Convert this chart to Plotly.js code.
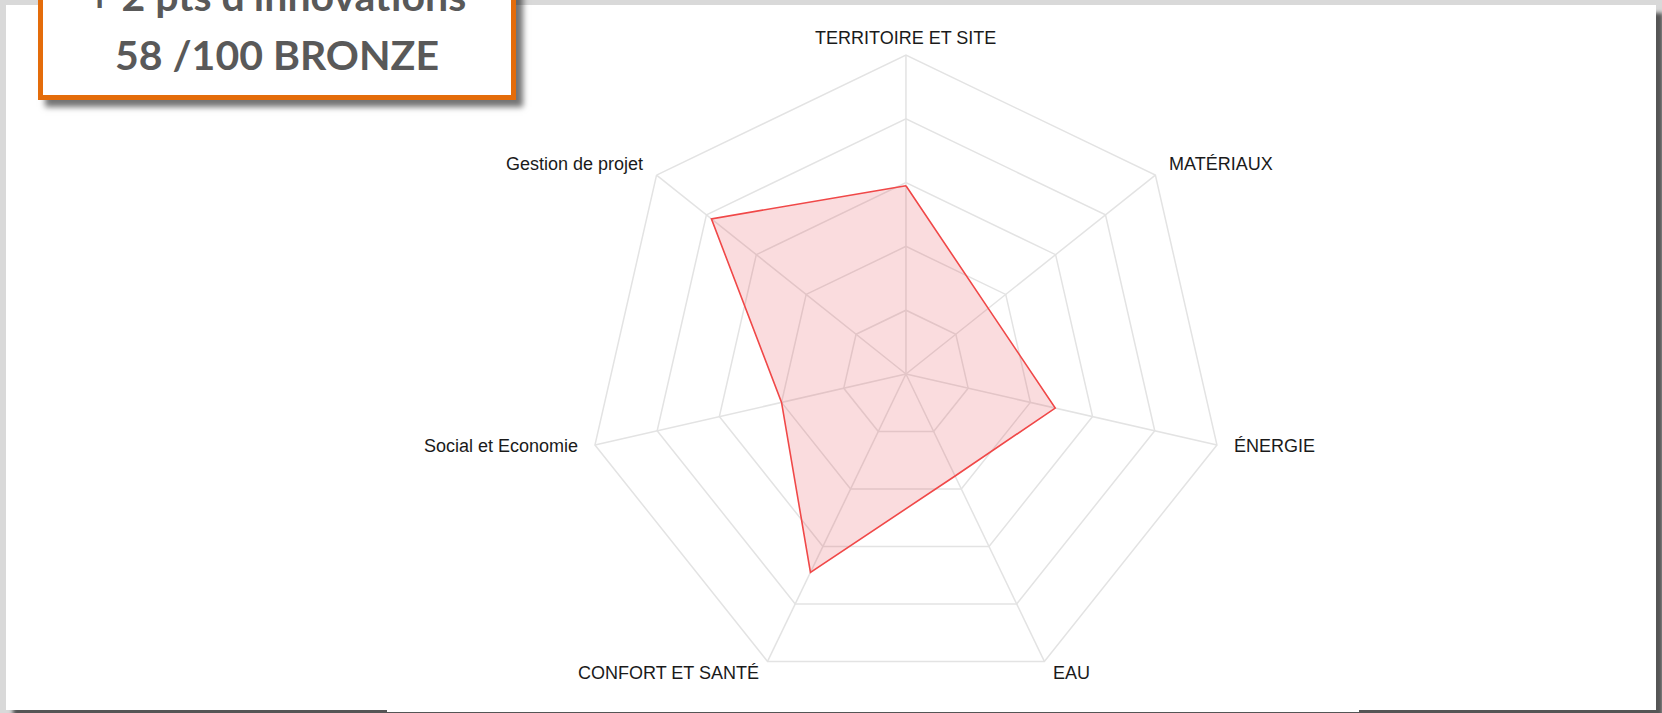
<!DOCTYPE html>
<html>
<head>
<meta charset="utf-8">
<script src="https://cdn.plot.ly/plotly-3.0.1.min.js"></script>
<style>
  html, body { margin: 0; padding: 0; background: #d9d9d9; }
  #wrap { position: relative; width: 1662px; height: 713px; background: #d9d9d9; overflow: hidden; }
  #page { position: absolute; left: 6px; top: 5px; width: 1650px; height: 705px; background: #ffffff; box-shadow: 7px 8px 4px #555555; }
  #pagefix { position: absolute; left: 387px; top: 710px; width: 972px; height: 2px; background: #ffffff; }
  #chart { position: absolute; left: 0; top: 0; width: 1662px; height: 713px; }
  #badge { position: absolute; left: 38px; top: -60px; width: 468px; height: 150px; background: #ffffff; border: 5.5px solid #e46c0a; box-shadow: 7px 7px 6px rgba(0,0,0,0.55); }
  #badgetext { position: absolute; left: 0; top: 0; width: 1662px; height: 713px; pointer-events: none; }
</style>
</head>
<body>
<div id="wrap">
  <div id="page"></div>
  <div id="pagefix"></div>
  <div id="chart"></div>
  <div id="badge"></div>
  <svg id="badgetext" width="1662" height="713">
    <text id="line1" x="277" y="11" text-anchor="middle" font-family="Lato, 'Open Sans', sans-serif" font-weight="700" font-size="41" fill="#595959"></text>
    <text id="line2" x="277" y="70" text-anchor="middle" font-family="Lato, 'Open Sans', sans-serif" font-weight="700" font-size="41" fill="#595959"></text>
  </svg>
</div>
<script>
// ---- data ----
const categories = ["TERRITOIRE ET SITE", "MATÉRIAUX", "ÉNERGIE", "EAU", "CONFORT ET SANTÉ", "Social et Economie", "Gestion de projet"];
const scores = [59, 33, 48, 35.5, 69, 40, 78];
const badgeLines = ["+ 2 pts d’innovations", "58 /100 BRONZE"];
const radialTicks = [0, 20, 40, 60, 80, 100];

document.getElementById('line1').textContent = badgeLines[0];
document.getElementById('line2').textContent = badgeLines[1];

const thetaClosed = categories.concat([categories[0]]);
const rClosed = scores.concat([scores[0]]);

const trace = {
  type: 'scatterpolar',
  r: rClosed,
  theta: thetaClosed,
  mode: 'lines',
  fill: 'toself',
  fillcolor: 'rgba(230,60,70,0.18)',
  line: { color: 'rgb(240,72,72)', width: 1.6 },
  hoverinfo: 'skip',
  showlegend: false
};

const W = 1662, H = 713;
const margin = { l: 0, r: 0, t: 55, b: 20 };
const domX = [0.3451, 0.7451], domY = [0, 1];
const plotH = H - margin.t - margin.b;
const radiusPx = plotH / 2;          // polar radius (height-limited domain)
const labelPad = 15;

// point labels, placed around the polygon like the original radar chart
const annotations = categories.map((c, i) => {
  const ang = i * 2 * Math.PI / categories.length;  // clockwise from top
  const s = Math.sin(ang), co = Math.cos(ang);
  const d = radiusPx + labelPad;
  return {
    xref: 'paper', yref: 'paper',
    x: (domX[0] + domX[1]) / 2, y: (domY[0] + domY[1]) / 2,
    xshift: d * s, yshift: d * co + 2,
    xanchor: Math.abs(s) < 0.1 ? 'center' : (s > 0 ? 'left' : 'right'),
    yanchor: 'middle',
    showarrow: false,
    text: c,
    font: { family: "'Liberation Sans', Arial, sans-serif", size: 18, color: '#1a1a1a' }
  };
});

const grid = '#e3e3e3';
const layout = {
  width: W,
  height: H,
  margin: margin,
  paper_bgcolor: 'rgba(0,0,0,0)',
  plot_bgcolor: 'rgba(0,0,0,0)',
  showlegend: false,
  annotations: annotations,
  polar: {
    domain: { x: domX, y: domY },
    bgcolor: 'rgba(0,0,0,0)',
    gridshape: 'linear',
    radialaxis: {
      range: [0, 100],
      tickvals: radialTicks,
      showticklabels: false,
      ticks: '',
      showline: false,
      gridcolor: grid,
      gridwidth: 1.5
    },
    angularaxis: {
      rotation: 90,
      direction: 'clockwise',
      showline: true,
      linecolor: grid,
      linewidth: 1.5,
      gridcolor: grid,
      gridwidth: 1.5,
      ticks: '',
      showticklabels: false
    }
  }
};

Plotly.newPlot('chart', [trace], layout, { staticPlot: true, displayModeBar: false });
</script>
</body>
</html>
